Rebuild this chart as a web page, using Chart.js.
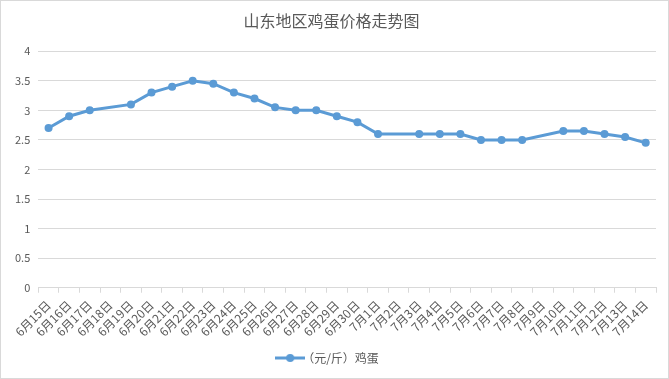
<!DOCTYPE html>
<html>
<head>
<meta charset="utf-8">
<script src="https://cdn.jsdelivr.net/npm/chart.js@4.4.0/dist/chart.umd.min.js"></script>
<style>
  html, body { margin: 0; padding: 0; background: #fff; }
  #wrap { position: relative; width: 667px; height: 377px; border: 1px solid #d9d9d9; }
</style>
</head>
<body>
<div id="wrap"><canvas id="chart"></canvas></div>
<script>
// données
const dates = ['6月15日','6月16日','6月17日','6月18日','6月19日','6月20日','6月21日','6月22日','6月23日','6月24日',
  '6月25日','6月26日','6月27日','6月28日','6月29日','6月30日','7月1日','7月2日','7月3日','7月4日',
  '7月5日','7月6日','7月7日','7月8日','7月9日','7月10日','7月11日','7月12日','7月13日','7月14日'];
const prix = [2.7, 2.9, 3.0, null, 3.1, 3.3, 3.4, 3.5, 3.45, 3.3,
  3.2, 3.05, 3.0, 3.0, 2.9, 2.8, 2.6, null, 2.6, 2.6,
  2.6, 2.5, 2.5, 2.5, null, 2.65, 2.65, 2.6, 2.55, 2.45];
const yTicks = [0, 0.5, 1, 1.5, 2, 2.5, 3, 3.5, 4];

const bleu = '#5B9BD5';
const gris = '#595959';
const police = '"Noto Sans CJK SC", "Microsoft YaHei", sans-serif';

// symbole de légende : trait + point
const sym = document.createElement('canvas');
sym.width = 30; sym.height = 10;
const sctx = sym.getContext('2d');
sctx.strokeStyle = bleu; sctx.lineWidth = 3;
sctx.beginPath(); sctx.moveTo(0, 5); sctx.lineTo(30, 5); sctx.stroke();
sctx.fillStyle = bleu;
sctx.beginPath(); sctx.arc(15, 5, 4, 0, Math.PI * 2); sctx.fill();

const ctx = document.getElementById('chart').getContext('2d');
new Chart(ctx, {
    type: 'line',
    data: {
        labels: dates,
        datasets: [{
            label: '（元/斤）鸡蛋',
            data: prix,
            borderColor: bleu,
            backgroundColor: bleu,
            borderWidth: 3,
            pointRadius: 4,
            pointBackgroundColor: bleu,
            pointBorderWidth: 0,
            pointStyle: 'circle',
            spanGaps: true,
            tension: 0
        }]
    },
    options: {
        responsive: true,
        maintainAspectRatio: false,
        animation: false,
        layout: { padding: { left: 6, right: 12, top: 4, bottom: 4 } },
        plugins: {
            title: {
                display: true,
                text: '山东地区鸡蛋价格走势图',
                color: gris,
                font: { family: police, size: 16, weight: 'normal' },
                padding: { top: 6, bottom: 21 }
            },
            legend: {
                position: 'bottom',
                labels: {
                    usePointStyle: true,
                    pointStyle: sym,
                    color: gris,
                    font: { family: police, size: 12 },
                    padding: 8
                }
            },
            tooltip: { enabled: false }
        },
        scales: {
            x: {
                offset: true,
                grid: { offset: true, drawOnChartArea: false, drawTicks: true, tickLength: 5, color: '#d9d9d9' },
                border: { color: '#d9d9d9' },
                ticks: {
                    color: gris,
                    font: { family: police, size: 12 },
                    maxRotation: 45,
                    minRotation: 45,
                    autoSkip: false,
                    padding: 5
                }
            },
            y: {
                min: 0,
                max: 4,
                afterBuildTicks: axis => { axis.ticks = yTicks.map(v => ({ value: v })); },
                grid: { color: '#d9d9d9', drawTicks: false },
                border: { display: false },
                ticks: {
                    color: gris,
                    font: { family: police, size: 11 },
                    padding: 8,
                    callback: v => String(v)
                }
            }
        }
    }
});
</script>
</body>
</html>
